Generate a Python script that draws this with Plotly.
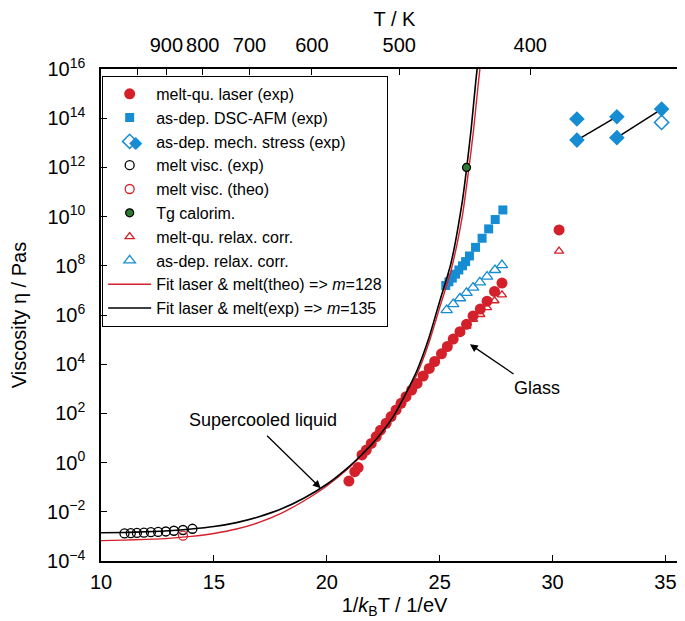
import plotly.graph_objects as go

# ---------------- data (x = 1/kBT in 1/eV, y values as log10 of viscosity in Pa s) -------------
laser_x = [20.98, 21.24, 21.39, 21.56, 21.75, 21.97, 22.19, 22.38, 22.63, 22.85, 23.07, 23.29,
           23.51, 23.76, 24.00, 24.27, 24.54, 24.78, 25.08, 25.34, 25.60, 25.90, 26.19, 26.48,
           26.80, 27.10, 27.43, 27.76, 30.29]
laser_log = [-0.75, -0.37, -0.20, 0.31, 0.51, 0.78, 1.06, 1.32, 1.60, 1.87, 2.14, 2.41,
             2.68, 2.95, 3.22, 3.52, 3.83, 4.11, 4.42, 4.72, 5.02, 5.32, 5.62, 5.96,
             6.24, 6.56, 6.96, 7.30, 9.46]

dsc_x = [25.27, 25.41, 25.56, 25.70, 25.85, 26.01, 26.15, 26.32, 26.59, 26.88, 27.17, 27.46, 27.80]
dsc_log = [7.20, 7.35, 7.50, 7.66, 7.83, 8.00, 8.17, 8.40, 8.75, 9.12, 9.50, 9.88, 10.27]

stress_filled_x = [31.08, 31.08, 32.85, 32.85, 34.83]
stress_filled_log = [13.97, 13.11, 14.06, 13.21, 14.37]
stress_open_x = [34.83]
stress_open_log = [13.83]
stress_links = [(1, 2), (3, 4)]

melt_exp_x = [11.04, 11.32, 11.59, 11.90, 12.21, 12.53, 12.87, 13.23, 13.63, 14.05]
melt_exp_log = [-2.88, -2.87, -2.86, -2.85, -2.83, -2.82, -2.80, -2.77, -2.74, -2.69]

melt_theo_x = [13.63]
melt_theo_log = [-2.97]

tg_x = [26.19]
tg_log = [12.0]

mq_relax_x = [25.90, 26.19, 26.48, 26.80, 27.10, 27.43, 27.76, 30.29]
mq_relax_log = [5.30, 5.55, 5.82, 6.02, 6.30, 6.58, 6.82, 8.60]

ad_relax_x = [25.31, 25.60, 25.90, 26.19, 26.48, 26.78, 27.10, 27.45, 27.76]
ad_relax_log = [6.20, 6.44, 6.68, 6.90, 7.11, 7.33, 7.56, 7.83, 8.03]

fit_theo_x = [10, 11, 12, 13, 14, 15, 16, 17, 18, 19, 20, 21, 21.5, 22, 22.5, 23, 23.5, 24,
              24.5, 25, 25.5, 26, 26.3, 26.5, 26.7, 26.9]
fit_theo_log = [-3.17, -3.15, -3.12, -3.08, -3.00, -2.88, -2.70, -2.43, -2.05, -1.55, -0.95,
                -0.20, 0.25, 0.72, 1.25, 1.88, 2.68, 3.60, 4.80, 6.30, 7.80, 10.0, 12.0, 13.5,
                15.3, 17.0]

fit_exp_x = [10, 11, 12, 13, 14, 15, 16, 17, 18, 19, 20, 21, 21.5, 22, 22.5, 23, 23.5, 24,
             24.5, 25, 25.5, 26, 26.2, 26.4, 26.6, 26.8]
fit_exp_log = [-2.85, -2.84, -2.81, -2.77, -2.70, -2.60, -2.44, -2.20, -1.88, -1.44, -0.88,
               -0.15, 0.28, 0.75, 1.30, 1.95, 2.80, 3.75, 5.00, 6.55, 8.10, 10.6, 12.0, 13.6,
               15.5, 17.2]

x_ticks = [10, 15, 20, 25, 30, 35]
y_exponents = [-4, -2, 0, 2, 4, 6, 8, 10, 12, 14, 16]
top_T = [1000, 900, 800, 700, 600, 500, 400]
top_T_labels = ["", "900", "800", "700", "600", "500", "400"]

KB = 8.617333e-5  # eV/K

RED = "#d3202a"
BLUE = "#168cd2"
GREEN = "#2f7a33"
FONT = "Liberation Sans, Arial, sans-serif"


def pw(v):
    return [10 ** e for e in v]


fig = go.Figure()

# connecting lines for stress pairs
for i, j in stress_links:
    fig.add_trace(go.Scatter(x=[stress_filled_x[i], stress_filled_x[j]],
                             y=pw([stress_filled_log[i], stress_filled_log[j]]),
                             mode="lines", line=dict(color="black", width=1.5),
                             showlegend=False, hoverinfo="skip"))

fig.add_trace(go.Scatter(x=laser_x, y=pw(laser_log), mode="markers", name="melt-qu. laser (exp)",
                         marker=dict(symbol="circle", size=11, color=RED), legendrank=1))
fig.add_trace(go.Scatter(x=dsc_x, y=pw(dsc_log), mode="markers", name="as-dep. DSC-AFM (exp)",
                         marker=dict(symbol="square", size=9, color=BLUE), legendrank=2))
fig.add_trace(go.Scatter(x=stress_open_x, y=pw(stress_open_log), mode="markers",
                         name="as-dep. mech. stress (exp)",
                         marker=dict(symbol="diamond-open", size=11, color=BLUE,
                                     line=dict(width=1.5, color=BLUE)), legendrank=3))
fig.add_trace(go.Scatter(x=stress_filled_x, y=pw(stress_filled_log), mode="markers",
                         showlegend=False,
                         marker=dict(symbol="diamond", size=12, color=BLUE)))
fig.add_trace(go.Scatter(x=melt_exp_x, y=pw(melt_exp_log), mode="markers", name="melt visc. (exp)",
                         marker=dict(symbol="circle-open", size=9, color="black",
                                     line=dict(width=1.3, color="black")), legendrank=4))
fig.add_trace(go.Scatter(x=melt_theo_x, y=pw(melt_theo_log), mode="markers", name="melt visc. (theo)",
                         marker=dict(symbol="circle-open", size=9, color=RED,
                                     line=dict(width=1.3, color=RED)), legendrank=5))
fig.add_trace(go.Scatter(x=mq_relax_x, y=pw(mq_relax_log), mode="markers", name="melt-qu. relax. corr.",
                         marker=dict(symbol="triangle-up-open", size=8, color=RED,
                                     line=dict(width=1.3, color=RED)), legendrank=7))
fig.add_trace(go.Scatter(x=ad_relax_x, y=pw(ad_relax_log), mode="markers", name="as-dep. relax. corr.",
                         marker=dict(symbol="triangle-up-open", size=10, color=BLUE,
                                     line=dict(width=1.3, color=BLUE)), legendrank=8))
fig.add_trace(go.Scatter(x=fit_theo_x, y=pw(fit_theo_log), mode="lines",
                         name="Fit laser & melt(theo) => <i>m</i>=128",
                         line=dict(color=RED, width=1.4, shape="spline", smoothing=0.6), legendrank=9))
fig.add_trace(go.Scatter(x=fit_exp_x, y=pw(fit_exp_log), mode="lines",
                         name="Fit laser & melt(exp) => <i>m</i>=135",
                         line=dict(color="black", width=1.6, shape="spline", smoothing=0.6), legendrank=10))
fig.add_trace(go.Scatter(x=tg_x, y=pw(tg_log), mode="markers", name="Tg calorim.",
                         marker=dict(symbol="circle", size=8, color=GREEN,
                                     line=dict(width=1.2, color="black")), legendrank=6))
# invisible trace to activate the top temperature axis
fig.add_trace(go.Scatter(x=[None], y=[None], xaxis="x2", showlegend=False, hoverinfo="skip"))

axis_common = dict(showgrid=False, zeroline=False, linecolor="black", linewidth=1.5,
                   ticks="inside", ticklen=6, tickwidth=1.2, tickcolor="black",
                   tickfont=dict(family=FONT, size=20, color="black"))

fig.update_layout(
    width=685, height=621,
    margin=dict(l=91, r=3, t=61, b=68),
    paper_bgcolor="white", plot_bgcolor="white",
    font=dict(family=FONT, color="black"),
    xaxis=dict(range=[10, 36], tickvals=x_ticks, showline=True, mirror=True,
               ticklabelstandoff=2,
               title=dict(text="1/<i>k</i><sub>B</sub>T / 1/eV", font=dict(size=20), standoff=6),
               **axis_common),
    xaxis2=dict(range=[10, 36], overlaying="x", side="top", anchor="y",
                tickvals=[1 / (KB * t) for t in top_T], ticktext=top_T_labels,
                showline=False, ticklabelstandoff=12,
                title=dict(text="T / K", font=dict(size=20), standoff=2),
                **axis_common),
    yaxis=dict(type="log", range=[-4, 16], tickvals=pw(y_exponents),
               ticktext=["10<sup>%s</sup>" % str(e).replace("-", "\u2212") for e in y_exponents],
               showline=True, mirror=True, ticklabelstandoff=10,
               title=dict(text="Viscosity η / Pas", font=dict(size=20), standoff=22),
               **axis_common),
    legend=dict(x=0.002, y=0.986, xanchor="left", yanchor="top",
                bgcolor="rgba(255,255,255,0)", bordercolor="black", borderwidth=1,
                font=dict(family=FONT, size=16, color="black"),
                itemwidth=43, tracegroupgap=0),
    showlegend=True,
)

# second legend glyph (filled diamond) for the stress entry
fig.add_annotation(xref="paper", yref="paper", x=0.060, y=0.852, text="◆", showarrow=False,
                   xanchor="center", yanchor="middle",
                   font=dict(size=17, color=BLUE, family="DejaVu Sans"))

# annotations
fig.add_annotation(x=17.17, y=1.73, text="Supercooled liquid", showarrow=False,
                   font=dict(size=18, family=FONT))
fig.add_annotation(x=19.73, y=-1.04, ax=17.29, ay=1.15, axref="x", ayref="y", text="",
                   showarrow=True, arrowhead=2, arrowsize=1.2, arrowwidth=1.3, arrowcolor="black")
fig.add_annotation(x=29.3, y=3.02, text="Glass", showarrow=False,
                   font=dict(size=18, family=FONT))
fig.add_annotation(x=26.34, y=4.81, ax=28.34, ay=3.56, axref="x", ayref="y", text="",
                   showarrow=True, arrowhead=2, arrowsize=1.2, arrowwidth=1.3, arrowcolor="black")

fig.write_html("out.html")
